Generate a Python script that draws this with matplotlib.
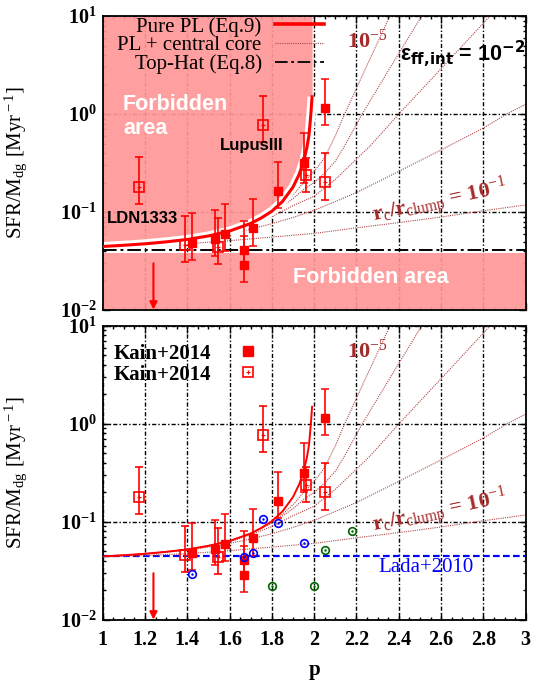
import math
import matplotlib
matplotlib.use("Agg")
import matplotlib.pyplot as plt
from matplotlib.lines import Line2D
from matplotlib.ticker import MultipleLocator, LogLocator, FuncFormatter, NullFormatter

plt.rcParams.update({
    "font.family": ["Liberation Serif", "DejaVu Serif"],
    "mathtext.fontset": "custom",
    "mathtext.rm": "Liberation Serif",
    "mathtext.it": "Liberation Serif:italic",
    "mathtext.bf": "Liberation Serif:bold",
})

# ---------------- data ----------------
# Pure power-law model (Eq. 9)
pure_p = [1.00, 1.10, 1.20, 1.30, 1.40, 1.50, 1.60, 1.70, 1.75, 1.80, 1.85,
          1.90, 1.93, 1.95, 1.965, 1.975, 1.98, 1.985, 1.99]
pure_v = [0.0445, 0.0458, 0.0474, 0.0496, 0.0525, 0.057, 0.064, 0.0765, 0.087,
          0.102, 0.128, 0.18, 0.245, 0.33, 0.45, 0.60, 0.78, 1.05, 1.50]

# Power law + central core, r_c/r_clump = 1e-5 ... 1e-1
core5_p = [1.0, 1.2, 1.4, 1.6, 1.7, 1.8, 1.85, 1.9, 1.95, 2.0, 2.05, 2.1, 2.144, 2.25, 2.358]
core5_v = [0.0445, 0.0474, 0.0524, 0.0638, 0.076, 0.099, 0.12, 0.15, 0.20, 0.26, 0.36, 0.60, 1.0, 3.15, 10.0]
core4_p = [1.0, 1.2, 1.4, 1.6, 1.7, 1.8, 1.85, 1.9, 1.95, 2.0, 2.05, 2.1, 2.138, 2.227, 2.368, 2.508]
core4_v = [0.0445, 0.0473, 0.0522, 0.0632, 0.0755, 0.0975, 0.115, 0.137, 0.17, 0.20, 0.25, 0.33, 0.45, 1.0, 3.2, 10.0]
core3_p = [1.0, 1.2, 1.4, 1.6, 1.7, 1.8, 1.9, 2.0, 2.1, 2.264, 2.4, 2.6, 2.831]
core3_v = [0.0444, 0.0472, 0.052, 0.063, 0.074, 0.09, 0.116, 0.145, 0.215, 0.471, 1.0, 2.9, 10.0]
core2_p = [1.0, 1.2, 1.4, 1.5, 1.6, 1.7, 1.8, 1.9, 2.0, 2.2, 2.4, 2.6, 2.8, 2.91, 3.0]
core2_v = [0.0443, 0.047, 0.0515, 0.0555, 0.0605, 0.067, 0.076, 0.088, 0.104, 0.158, 0.26, 0.43, 0.72, 1.0, 1.26]
core1_p = [1.0, 1.2, 1.4, 1.6, 1.8, 2.0, 2.2, 2.4, 2.6, 2.8, 3.0]
core1_v = [0.044, 0.0455, 0.0475, 0.051, 0.0555, 0.0605, 0.069, 0.078, 0.089, 0.103, 0.118]

# Top-hat model (Eq. 8) and Lada+2010 level
tophat_p = [1.0, 3.0]
tophat_v = [0.041, 0.041]
lada_p = [1.0, 3.0]
lada_v = [0.045, 0.045]

# Kain+2014 (filled squares)
kain_p = [1.42, 1.53, 1.58, 1.67, 1.67, 1.71, 1.83, 1.95, 2.05]
kain_v = [0.048, 0.053, 0.060, 0.041, 0.029, 0.068, 0.165, 0.318, 1.16]
kain_lo = [0.0324, 0.036, 0.040, 0.030, 0.0191, 0.045, 0.109, 0.20, 0.773]
kain_hi = [0.097, 0.105, 0.122, 0.0816, 0.057, 0.135, 0.326, 0.635, 2.28]

# Kain+2014 (open squares)
kopen_p = [1.17, 1.39, 1.544, 1.76, 1.963, 2.05]
kopen_v = [0.179, 0.046, 0.0443, 0.778, 0.239, 0.201]
kopen_lo = [0.121, 0.0307, 0.0292, 0.52, 0.16, 0.134]
kopen_hi = [0.361, 0.091, 0.086, 1.54, 0.36, 0.40]

# upper limit
limit_p = [1.24]
limit_v = [0.030]

# Lada+2010 clouds
blue_p = [1.42, 1.67, 1.71, 1.76, 1.83, 1.95]
blue_v = [0.0294, 0.0436, 0.048, 0.107, 0.0977, 0.061]
green_p = [1.80, 2.00, 2.05, 2.18]
green_v = [0.0221, 0.0221, 0.0522, 0.0804]

core_curves = [(core5_p, core5_v), (core4_p, core4_v), (core3_p, core3_v),
               (core2_p, core2_v), (core1_p, core1_v)]

# ---------------- style ----------------
PINK = "#ff9797"
DARKRED = "#a52a2a"
CORE_COLOR = "#b24848"
GRID_LS = (0, (3, 1.5, 1, 1.5))
CORE_LS = (0, (1, 1))
TOPHAT_LS = (0, (7, 2, 1.5, 2))

fig = plt.figure(figsize=(5.41, 6.85), dpi=100)
ax1 = fig.add_axes([0.1898, 0.5474, 0.7819, 0.4292])
ax2 = fig.add_axes([0.1898, 0.0949, 0.7819, 0.4292])


def decade_label(v, pos):
    return r"$\mathbf{10^{%d}}$" % round(math.log10(v))


def setup(ax, show_x):
    ax.set_xlim(1, 3)
    ax.set_yscale("log")
    ax.set_ylim(0.01, 10)
    ax.xaxis.set_major_locator(MultipleLocator(0.2))
    ax.xaxis.set_minor_locator(MultipleLocator(0.05))
    ax.yaxis.set_major_locator(LogLocator(base=10, numticks=10))
    ax.yaxis.set_minor_locator(LogLocator(base=10, subs=range(2, 10), numticks=20))
    ax.yaxis.set_minor_formatter(NullFormatter())
    ax.yaxis.set_major_formatter(FuncFormatter(decade_label))
    ax.tick_params(which="both", direction="in", top=True, right=True, width=1)
    ax.tick_params(which="major", length=5, labelsize=14.5, pad=7)
    ax.tick_params(which="minor", length=2.5)
    ax.tick_params(axis="y", pad=4)
    for s in ax.spines.values():
        s.set_linewidth(1.3)
    ax.grid(True, which="major", color="black", ls=GRID_LS, lw=1.0, zorder=0.5)
    ax.set_axisbelow(True)
    ax.set_ylabel(r"SFR/M$_{\rm dg}$ [Myr$^{\rm -1}$]", fontsize=15)
    ax.yaxis.set_label_coords(-0.175, 0.5)
    if show_x:
        ax.xaxis.set_major_formatter(FuncFormatter(lambda v, pos: "%g" % round(v, 1)))
    else:
        ax.tick_params(axis="x", labelbottom=False)


setup(ax1, False)
setup(ax2, True)
for lab in ax2.get_xticklabels():
    lab.set_fontweight("bold")
ax2.set_xlabel("p", fontsize=15, fontweight="bold")
ax2.xaxis.set_label_coords(0.5, -0.135)


def draw_common(ax, halo):
    for cp, cv in core_curves:
        ax.plot(cp, cv, color=CORE_COLOR, lw=0.8, ls=CORE_LS, zorder=2)
    if halo:
        ax.plot(pure_p, pure_v, color="white", lw=6.5, solid_capstyle="butt", zorder=2.5)
        ax.plot(pure_p, pure_v, color="red", lw=2.2, zorder=2.6)
    else:
        ax.plot(pure_p, pure_v, color="red", lw=1.4, zorder=2.6)
    # open squares
    yerr_o = [[v - lo for v, lo in zip(kopen_v, kopen_lo)], [hi - v for v, hi in zip(kopen_v, kopen_hi)]]
    ax.errorbar(kopen_p, kopen_v, yerr=yerr_o, fmt="s", ms=6.5, mfc="none", mec="red", mew=1.2,
                ecolor="red", elinewidth=1.2, capsize=3, capthick=1.1, zorder=3)
    ax.plot(kopen_p, kopen_v, "+", color="red", ms=3, mew=0.8, zorder=3)
    # filled squares
    yerr_f = [[v - lo for v, lo in zip(kain_v, kain_lo)], [hi - v for v, hi in zip(kain_v, kain_hi)]]
    ax.errorbar(kain_p, kain_v, yerr=yerr_f, fmt="s", ms=6, mfc="red", mec="red",
                ecolor="red", elinewidth=1.2, capsize=3, capthick=1.1, zorder=3.2)
    # upper limit
    for lp, lv in zip(limit_p, limit_v):
        ax.annotate("", xy=(lp, 0.0101), xytext=(lp, lv),
                    arrowprops=dict(arrowstyle="-|>", color="red", lw=1.5, mutation_scale=11,
                                    shrinkA=0, shrinkB=0), zorder=3)
    ax.text(0.578, 0.891, r"10$^{-5}$", transform=ax.transAxes, color=DARKRED,
            fontsize=16, fontweight="bold", va="baseline", zorder=4)
    ax.text(0.797, 0.368, r"r$_{\rm c}$/r$_{\rm clump}$ = 10$^{-1}$", transform=ax.transAxes,
            color=DARKRED, fontsize=16, fontweight="bold", rotation=12, ha="center", va="center",
            rotation_mode="anchor", zorder=4)


# ---------------- top panel ----------------
ax1.fill_between(pure_p, pure_v, 10, color=PINK, alpha=0.92, lw=0, zorder=1)
ax1.axhspan(0.01, 0.0385, color=PINK, alpha=0.92, lw=0, zorder=1)
ax1.plot(tophat_p, tophat_v, color="black", lw=1.4, ls=TOPHAT_LS, zorder=2.7)
draw_common(ax1, True)

ax1.text(0.048, 0.735, "Forbidden\narea", transform=ax1.transAxes, color="white",
         fontsize=15.5, fontweight="bold", family="Liberation Sans", va="top", linespacing=1.2, zorder=4)
ax1.text(0.45, 0.112, "Forbidden area", transform=ax1.transAxes, color="white",
         fontsize=15.5, fontweight="bold", family="Liberation Sans", va="center", zorder=4)
ax1.text(0.278, 0.558, "LupusIII", transform=ax1.transAxes, color="black",
         fontsize=12, fontweight="bold", family="Liberation Sans", va="center", zorder=4)
ax1.text(0.01, 0.313, "LDN1333", transform=ax1.transAxes, color="black",
         fontsize=12, fontweight="bold", family="Liberation Sans", va="center", zorder=4)
ax1.text(0.703, 0.847, r"ε$_{\mathbf{ff{,}int}}$ = 10$^{\mathbf{-2}}$", transform=ax1.transAxes,
         color="black", fontsize=15.5, fontweight="bold", family="Liberation Sans",
         math_fontfamily="dejavusans", va="baseline", zorder=4)

leg1_handles = [Line2D([], [], color="red", lw=2.6),
                Line2D([], [], color=CORE_COLOR, lw=0.8, ls=CORE_LS),
                Line2D([], [], color="black", lw=1.3, ls=TOPHAT_LS)]
leg1 = ax1.legend(leg1_handles, ["Pure PL (Eq.9)", "PL + central core", "Top-Hat (Eq.8)"],
                  loc="upper left", bbox_to_anchor=(0.035, 0.997), frameon=False,
                  markerfirst=False, fontsize=15, handlelength=2.35, handletextpad=0.65,
                  labelspacing=-0.05, borderpad=0, borderaxespad=0)
leg1.set_zorder(5)

# ---------------- bottom panel ----------------
ax2.plot(lada_p, lada_v, color="blue", lw=1.6, ls=(0, (3, 1.5)), zorder=2)
draw_common(ax2, False)
ax2.plot(blue_p, blue_v, "o", mfc="none", mec="blue", ms=5.5, mew=1.2, zorder=3.5)
ax2.plot(blue_p, blue_v, ".", color="blue", ms=1.5, zorder=3.5)
ax2.plot(green_p, green_v, "o", mfc="none", mec="darkgreen", ms=5.5, mew=1.2, zorder=3.5)
ax2.plot(green_p, green_v, ".", color="darkgreen", ms=1.5, zorder=3.5)
ax2.text(0.651, 0.178, "Lada+2010", transform=ax2.transAxes, color="blue", fontsize=15, va="center")

h_filled = Line2D([], [], marker="s", ls="none", color="red", ms=6.5)
h_open = Line2D([], [], marker="s", ls="none", mfc="none", mec="red", mew=1.2, ms=6.5)
h_plus = Line2D([], [], marker="+", ls="none", color="red", ms=3, mew=0.8)
leg2 = ax2.legend([h_filled, (h_open, h_plus)], ["Kain+2014", "Kain+2014"],
                  loc="upper left", bbox_to_anchor=(0.025, 0.94), frameon=False,
                  markerfirst=False, prop={"size": 15, "weight": "bold"},
                  handlelength=2.0, handletextpad=0.8, labelspacing=0.05,
                  borderpad=0, borderaxespad=0)

fig.savefig("out.png", dpi=100)
